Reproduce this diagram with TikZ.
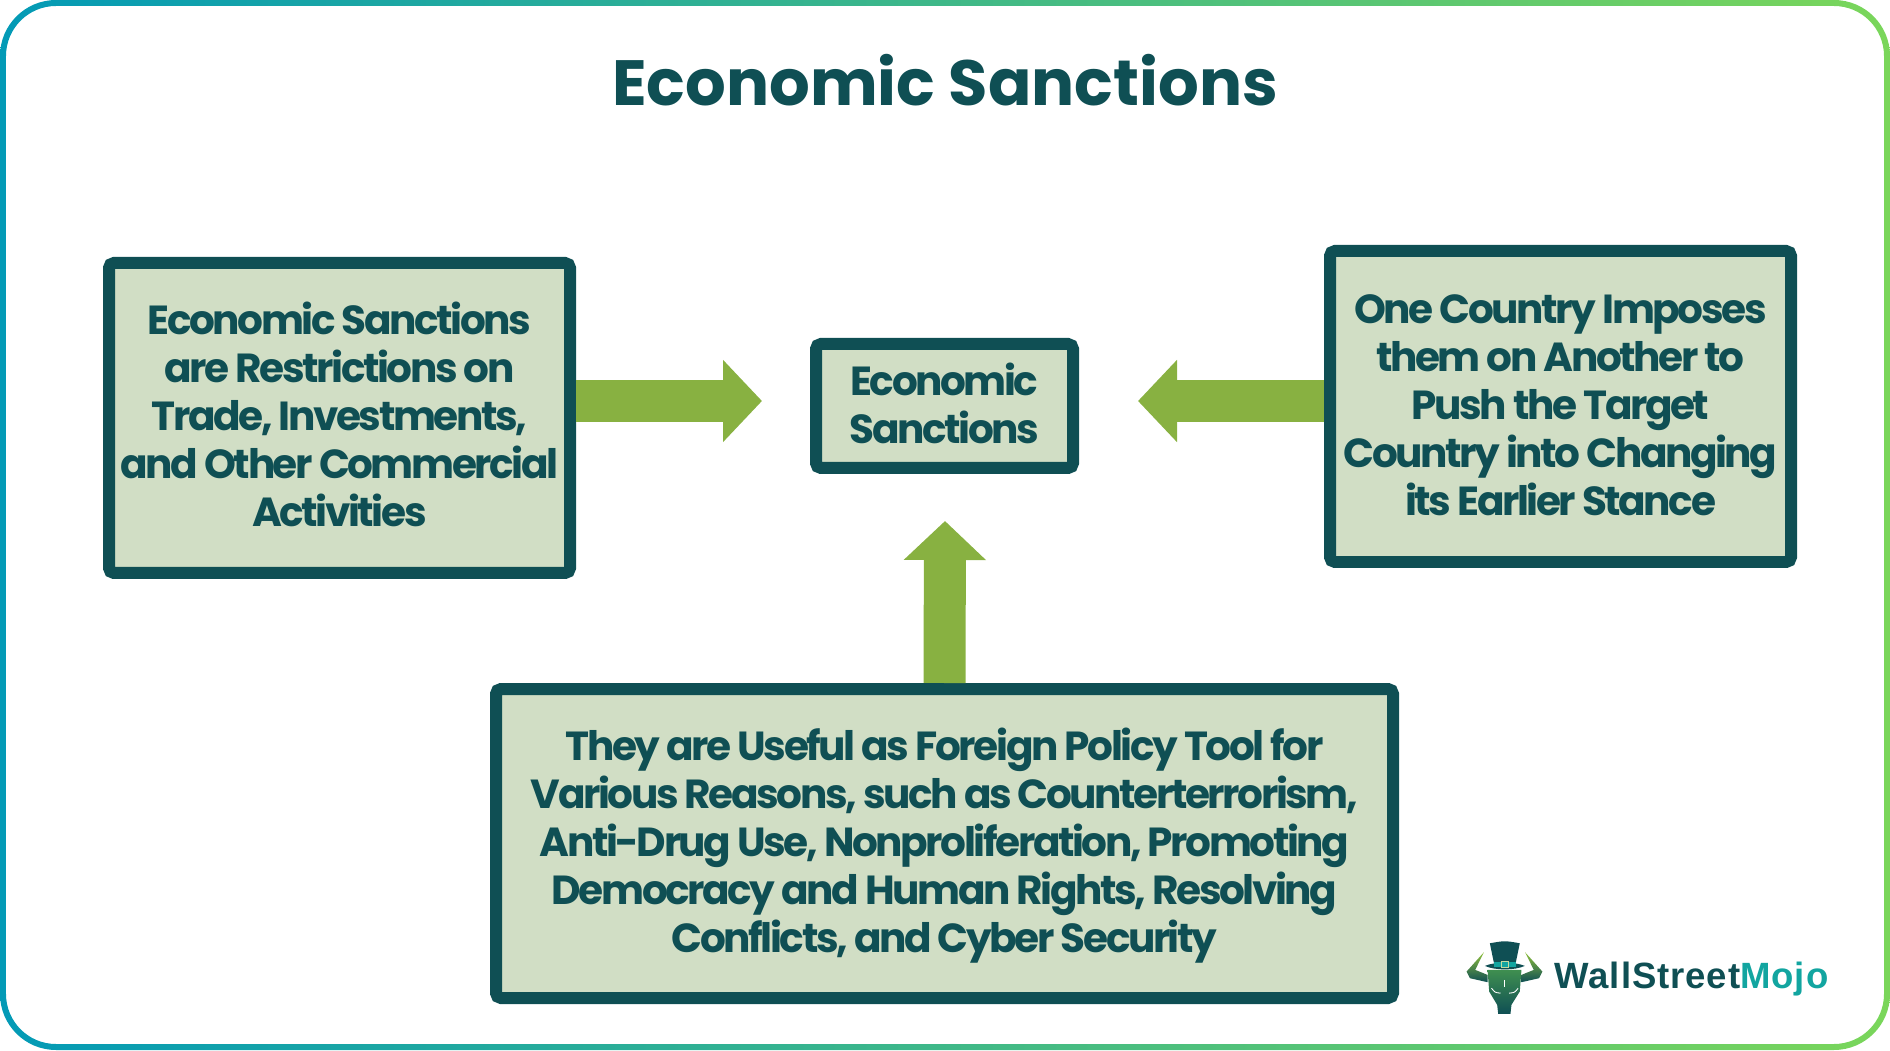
\documentclass[tikz,border=0pt]{standalone}
\usepackage{fontspec}
\usepackage{xcolor}
\setmainfont{Poppins}
\newfontfamily\boxfont{Poppins}[LetterSpace=-6.0]
\newfontfamily\markfont{Liberation Sans}[LetterSpace=2.5]
\usetikzlibrary{arrows.meta}
\definecolor{darkteal}{HTML}{0F4F54}
\definecolor{palegreen}{HTML}{D1DEC5}
\definecolor{arrowgreen}{HTML}{88B141}
\definecolor{frameleft}{HTML}{039AB6}
\definecolor{frameright}{HTML}{7AD65A}
\definecolor{mojoteal}{HTML}{12A5A0}
\definecolor{limegreen}{HTML}{8FC03C}
\definecolor{hornend}{HTML}{3F8F50}
\tikzset{
    infobox/.style={draw=darkteal, fill=palegreen, line width=0.12cm, rounded corners=0.05cm,
        align=center, text=darkteal, inner sep=0pt,
        font=\boxfont\bfseries\fontsize{11.55pt}{13.66pt}\selectfont},
    bigarrow/.style={draw=arrowgreen, line width=0.42cm,
        -{Triangle[length=0.39cm,width=0.80cm,fill=arrowgreen]}},
}

\begin{document}
\begin{tikzpicture}
\useasboundingbox (0,0) rectangle (18.9,10.5);

% Frame
\path[even odd rule, left color=frameleft, right color=frameright]
    (0,0) [rounded corners=0.56cm] rectangle (18.9,10.5)
    (0.06,0.06) [rounded corners=0.5cm] rectangle (18.84,10.44);

% Title
\node[text=darkteal, font=\bfseries\fontsize{18.2pt}{20pt}\selectfont] (title) at (9.45,9.7) {Economic Sanctions};

% Arrow ends
\coordinate (leftend) at (7.62,6.49);
\coordinate (rightend) at (11.38,6.49);
\coordinate (upend) at (9.45,5.29);

% Boxes
\node[infobox, text depth=0.08cm, minimum width=4.61cm, minimum height=3.10cm] (leftbox) at (3.395,6.32)
    {Economic Sanctions\\are Restrictions on\\Trade, Investments,\\and Other Commercial\\Activities};
\node[infobox, text depth=0.035cm, minimum width=4.61cm, minimum height=3.11cm] (rightbox) at (15.605,6.435)
    {One Country Imposes\\them on Another to\\Push the Target\\Country into Changing\\its Earlier Stance};
\node[infobox, text depth=0.06cm, minimum width=2.57cm, minimum height=1.24cm] (centerbox) at (9.445,6.44)
    {Economic\\Sanctions};
\node[infobox, text depth=0.06cm, minimum width=8.97cm, minimum height=3.09cm] (bottombox) at (9.445,2.065)
    {They are Useful as Foreign Policy Tool for\\Various Reasons, such as Counterterrorism,\\Anti-Drug Use, Nonproliferation, Promoting\\Democracy and Human Rights, Resolving\\Conflicts, and Cyber Security};

% Arrows
\draw[bigarrow] (leftbox.east |- leftend) -- (leftend);
\draw[bigarrow] (rightbox.west |- rightend) -- (rightend);
\draw[bigarrow] (bottombox.north) -- (upend);

% Logo
\begin{scope}[shift={(14.2,1.3)}, x=0.003333cm, y=-0.003333cm]
\foreach \s in {1,-1} {
    \begin{scope}[xshift={254*0.003333cm}, xscale=\s]
    \shade[top color=limegreen, bottom color=darkteal] (-62,97) -- (-114,155) -- (-104,175) -- (-51,187) -- (-51,165) -- (-88,150) -- cycle;
    \end{scope}
}
\shade[top color=hornend, middle color=limegreen, bottom color=darkteal]
    (203,150) -- (305,150) -- (300,215) -- (275,255) -- (272,282) -- (235,282) -- (232,255) -- (208,215) -- cycle;
\draw[white, line width=0.25pt] (215,205) .. controls (225,218) .. (242,220);
\draw[white, line width=0.25pt] (295,205) .. controls (285,218) .. (268,220);
\draw[white, line width=0.2pt] (255,180) -- (255,200);
\fill[darkteal] (210,70) .. controls (255,62) .. (300,70) -- (288,128) -- (222,128) -- cycle;
\fill[darkteal] (195,138) .. controls (225,125) and (285,125) .. (315,138) .. controls (285,152) and (225,152) .. (195,138) -- cycle;
\fill[mojoteal] (222,126) rectangle (288,141);
\draw[arrowgreen!50!white, line width=0.3pt] (245,125) rectangle (265,142);
\end{scope}
\node[anchor=west, inner sep=0pt, text=darkteal, font=\markfont\bfseries\fontsize{10.4pt}{12pt}\selectfont] (wordmark) at (15.54,0.71)
    {WallStreet\textcolor{mojoteal}{Mojo}};

\end{tikzpicture}
\end{document}
